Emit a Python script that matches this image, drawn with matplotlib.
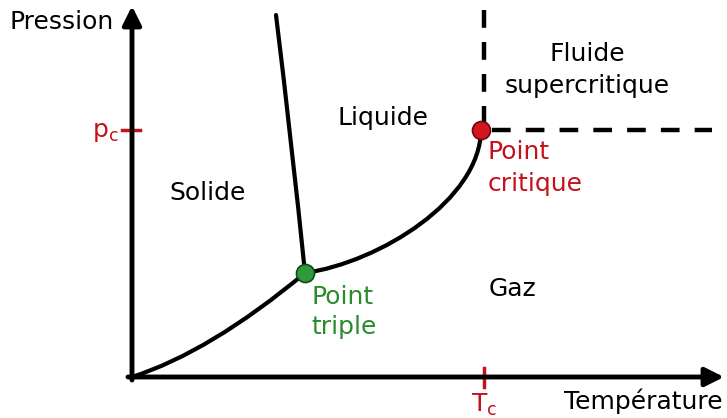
import matplotlib.pyplot as plt
from matplotlib.path import Path
from matplotlib.patches import PathPatch

# Coordinates (pixel-like units, y grows downwards)
triple = (305, 273)
critical = (481, 130)

# Bezier control points of the phase boundaries
sublimation = [(132, 377), (210, 352), triple]
fusion = [triple, (292, 145), (276, 15)]
vaporisation = [triple, (380, 262), (480, 200), critical]

RED = "#c4121a"
GREEN = "#2a8c2a"

fig = plt.figure(figsize=(7.27, 4.18), dpi=100)
ax = fig.add_axes([0, 0, 1, 1])
ax.set_xlim(0, 727)
ax.set_ylim(418, 0)
ax.axis("off")

# axes with arrows
ax.annotate("", xy=(724, 377), xytext=(128, 377),
            arrowprops=dict(arrowstyle="-|>", lw=3.5, color="black",
                            mutation_scale=28, shrinkA=0, shrinkB=0))
ax.annotate("", xy=(132, 6), xytext=(132, 380),
            arrowprops=dict(arrowstyle="-|>", lw=3.5, color="black",
                            mutation_scale=28, shrinkA=0, shrinkB=0))

# phase boundaries
for pts in (sublimation, fusion, vaporisation):
    codes = [Path.MOVETO] + [Path.CURVE3 if len(pts) == 3 else Path.CURVE4] * (len(pts) - 1)
    ax.add_patch(PathPatch(Path(pts, codes), fc="none", ec="black", lw=3,
                           capstyle="round"))

# supercritical boundaries
ax.plot([484, 484], [10, 122], color="black", lw=3.2, dashes=(4, 3.2))
ax.plot([492, 712], [130, 130], color="black", lw=3.2, dashes=(4.2, 3.4))

# ticks
ax.plot([122, 140], [130, 130], color=RED, lw=2.5)
ax.plot([484, 484], [368, 387], color=RED, lw=2.5)

ax.plot(*critical, "o", ms=13, mfc="#d4161f", mec="#6a0a0a", mew=1.2, zorder=5)
ax.plot(*triple, "o", ms=13, mfc="#2f9a3a", mec="#124a16", mew=1.2, zorder=5)

fs = 18
ax.text(10, 22, "Pression", fontsize=fs, va="center", ha="left")
ax.text(723, 401, "Température", fontsize=fs, va="center", ha="right")
ax.text(119, 132, "p$_\\mathregular{c}$", fontsize=fs, color=RED, va="center", ha="right")
ax.text(484, 405, "T$_\\mathregular{c}$", fontsize=fs, color=RED, va="center", ha="center")

ax.text(208, 193, "Solide", fontsize=fs, va="center", ha="center")
ax.text(383, 118, "Liquide", fontsize=fs, va="center", ha="center")
ax.text(513, 289, "Gaz", fontsize=fs, va="center", ha="center")
ax.text(587, 70, "Fluide\nsupercritique", fontsize=fs, va="center", ha="center",
        linespacing=1.4)
ax.text(488, 168, "Point\ncritique", fontsize=fs, va="center", ha="left",
        color=RED, linespacing=1.4)
ax.text(311, 312, "Point\ntriple", fontsize=fs, va="center", ha="left",
        color=GREEN, linespacing=1.35)

fig.savefig("out.png", dpi=100)
